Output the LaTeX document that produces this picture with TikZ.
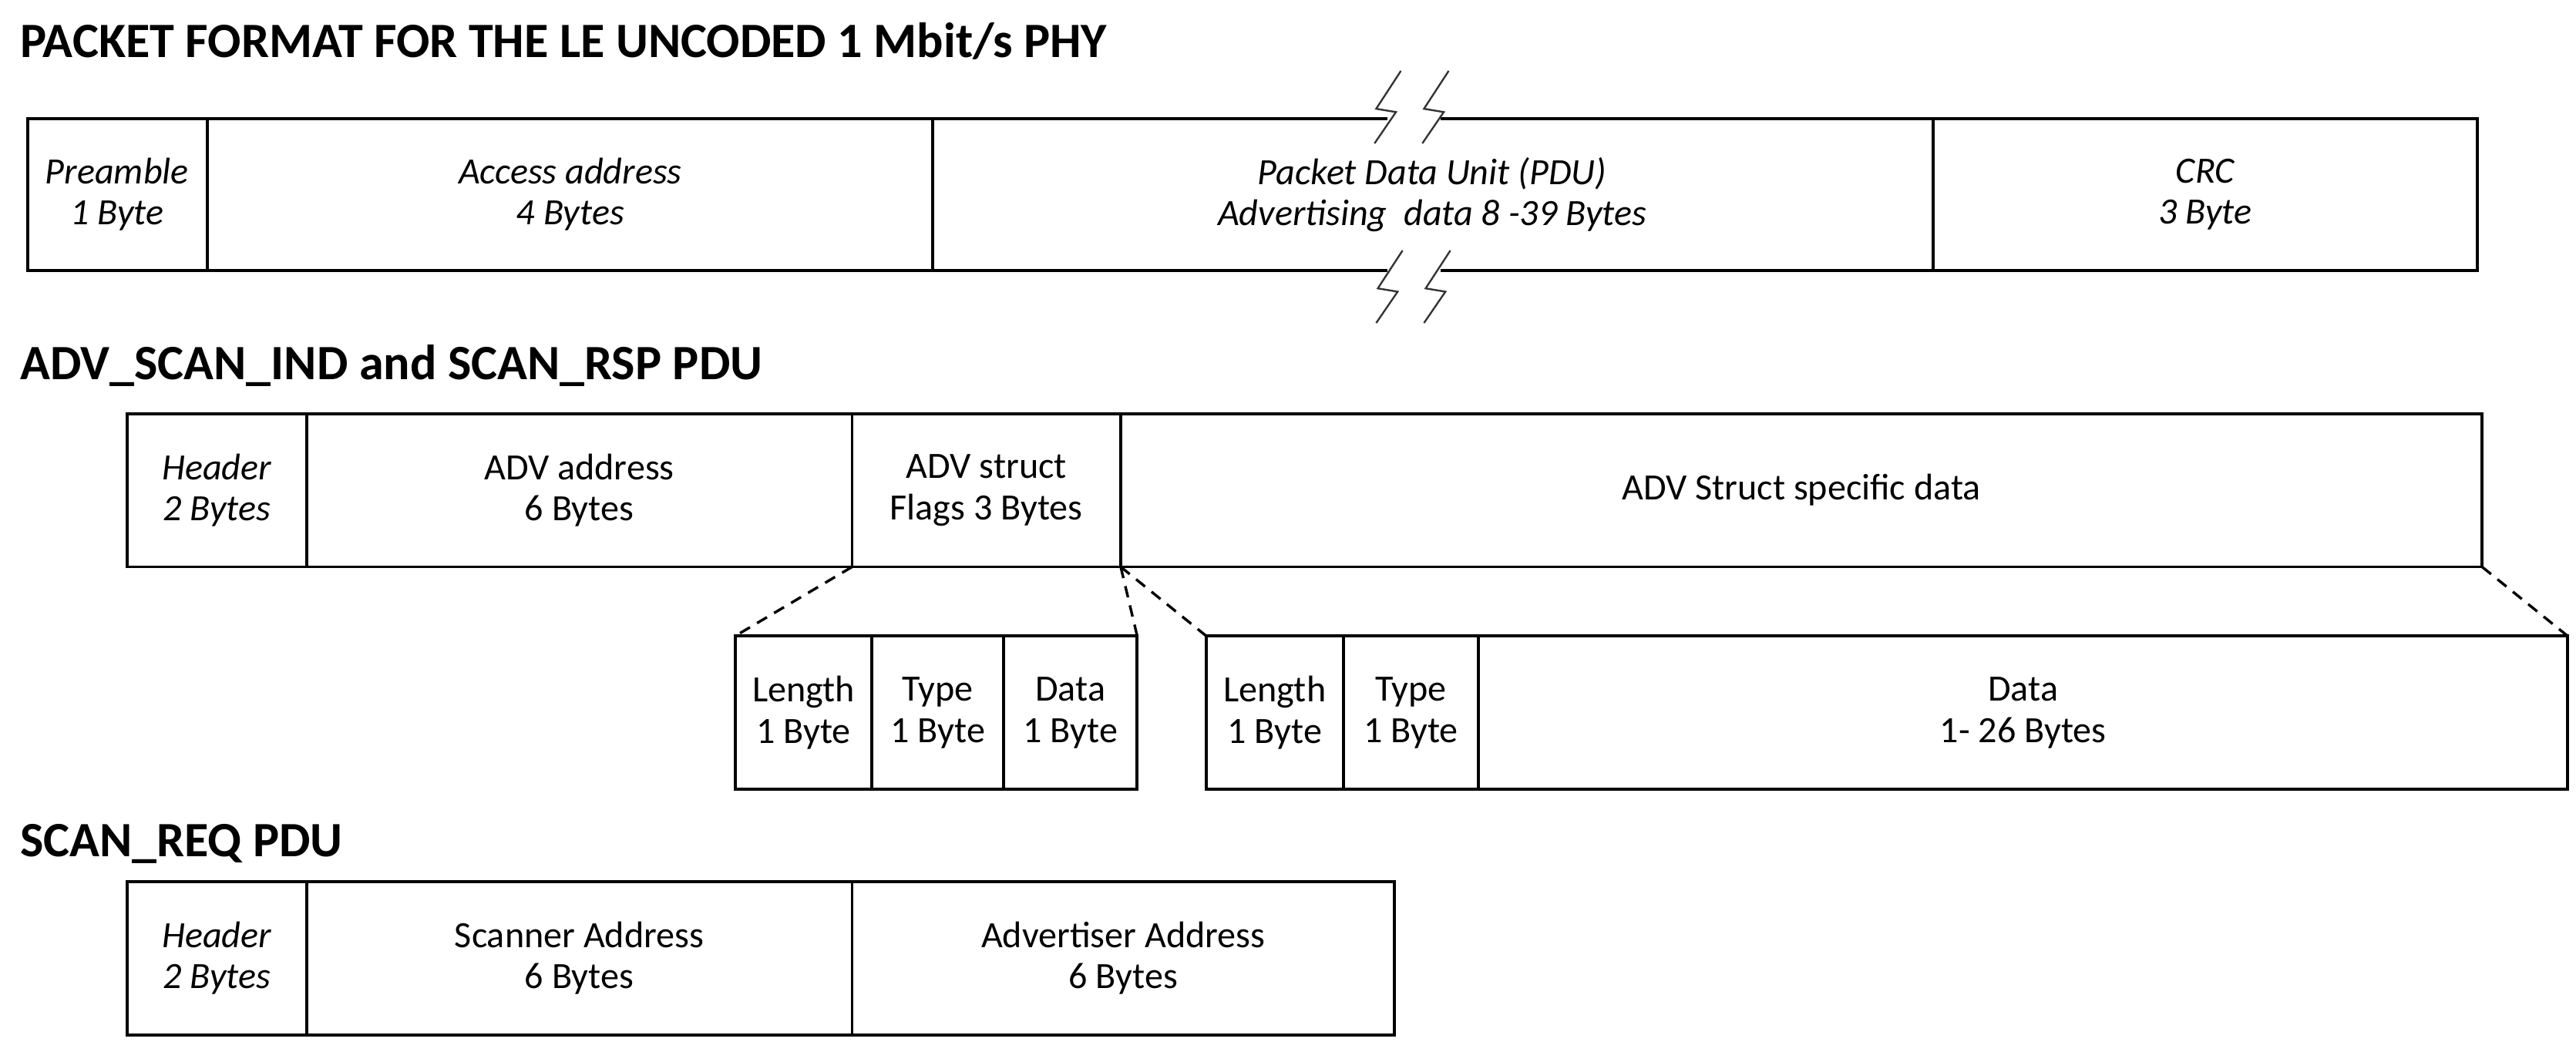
\documentclass[tikz,border=0pt]{standalone}
\usepackage{fontspec}
\setmainfont{Carlito}
\begin{document}
\begin{tikzpicture}[x=1pt,y=-1pt,line width=1.8pt,
  box/.style={draw,anchor=north west,inner sep=0pt,outer sep=0pt},
  lab/.style={align=center,font=\fontsize{22.5}{25}\selectfont},
  ilab/.style={lab,font=\fontsize{22.5}{25}\selectfont\itshape},
  ttl/.style={anchor=west,font=\fontsize{30}{32}\selectfont\bfseries},
  brk/.style={line width=1.1pt,draw=black!80},
  dsh/.style={dashed,line width=1.6pt,dash pattern=on 7pt off 5pt}]
\useasboundingbox (0,0) rectangle (1563,638);
\node[ttl] (t1) at (8,25) {PACKET FORMAT FOR THE LE UNCODED 1 Mbit/s PHY};
\node[ttl] (t2) at (8,222) {ADV\_SCAN\_IND and SCAN\_RSP PDU};
\node[ttl] (t3) at (8,512) {SCAN\_REQ PDU};
% row 1
\draw (842,72) -- (17,72) -- (17,164) -- (842,164);
\draw (874,72) -- (1503,72) -- (1503,164) -- (874,164);
\foreach \x in {126,566,1173} \draw (\x,72) -- (\x,164);
\foreach \dx in {0,29}{
  \draw[brk] (850+\dx,43) -- (835+\dx,66) -- (847+\dx,68) -- (834+\dx,87);
  \draw[brk] (851+\dx,152) -- (836+\dx,175) -- (848+\dx,177) -- (835+\dx,196);}
\node[ilab] (p1) at (71,118) {Preamble\\1 Byte};
\node[ilab] (p2) at (346,118) {Access address\\4 Bytes};
\node[ilab] (p3) at (869,118) {Packet Data Unit (PDU)\\Advertising~~data 8 -39 Bytes};
\node[ilab] (p4) at (1338,118) {CRC\\3 Byte};
% row 2
\node[box,minimum width=109pt,minimum height=93pt] (h2) at (77,251) {};
\node[box,minimum width=331pt,minimum height=93pt] (a2) at (186,251) {};
\node[box,minimum width=163pt,minimum height=93pt] (f2) at (517,251) {};
\node[box,minimum width=826pt,minimum height=93pt] (s2) at (680,251) {};
\node[ilab] at (h2.center) {Header\\2 Bytes};
\node[lab] at (a2.center) {ADV address\\6 Bytes};
\node[lab] at (f2.center) {ADV struct\\Flags 3 Bytes};
\node[lab] at (s2.center) {ADV Struct specific data};
% row 3
\node[box,minimum width=83pt,minimum height=93pt] (l1) at (446,386) {};
\node[box,minimum width=80pt,minimum height=93pt] (ty1) at (529,386) {};
\node[box,minimum width=81pt,minimum height=93pt] (d1) at (609,386) {};
\node[box,minimum width=83pt,minimum height=93pt] (l2) at (732,386) {};
\node[box,minimum width=82pt,minimum height=93pt] (ty2) at (815,386) {};
\node[box,minimum width=661pt,minimum height=93pt] (d2) at (897,386) {};
\foreach \n/\t in {l1/Length,ty1/Type,d1/Data,l2/Length,ty2/Type}
  \node[lab] at (\n.center) {\t\\1 Byte};
\node[lab] at (d2.center) {Data\\1- 26 Bytes};
\draw[dsh] (f2.south west) -- (l1.north west);
\draw[dsh] (f2.south east) -- (d1.north east);
\draw[dsh] (s2.south west) -- (l2.north west);
\draw[dsh] (s2.south east) -- (d2.north east);
% row 4
\node[box,minimum width=109pt,minimum height=93pt] (h4) at (77,535) {};
\node[box,minimum width=331pt,minimum height=93pt] (sa) at (186,535) {};
\node[box,minimum width=329pt,minimum height=93pt] (aa) at (517,535) {};
\node[ilab] at (h4.center) {Header\\2 Bytes};
\node[lab] at (sa.center) {Scanner Address\\6 Bytes};
\node[lab] at (aa.center) {Advertiser Address\\6 Bytes};
\end{tikzpicture}
\end{document}
